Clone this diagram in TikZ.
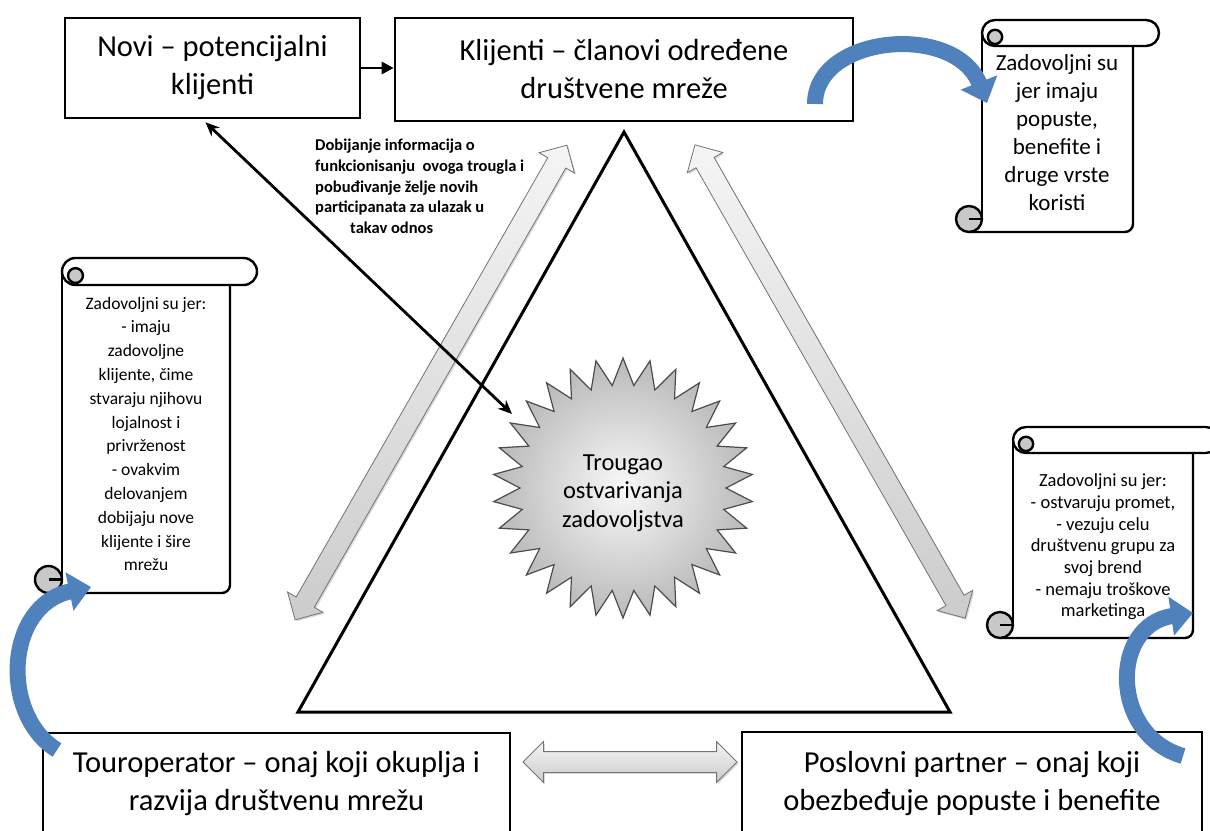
\documentclass[tikz,border=0pt]{standalone}
\usepackage{fontspec}
\setmainfont{Carlito}
\usetikzlibrary{shapes.arrows,arrows.meta,calc,shadows}
\definecolor{obl}{HTML}{4F81BD}
\definecolor{curlgray}{HTML}{C8C8C8}

\newcommand\drawscroll[5]{%
  \pgfmathsetmacro\sh{#5/2}%
  \fill[white] (#1,{#2+\sh}) rectangle (#3,#4);
  \draw[scrollline] (#1,{#2+\sh}) -- (#1,{#4-\sh});
  \draw[scrollline, rounded corners=8pt] (#3,{#2+#5}) -- (#3,#4) -- ({#1-\sh},#4);
  \draw[scrollline, fill=curlgray] ({#1-\sh},{#4-\sh}) circle[radius=\sh];
  \draw[scrollline] ({#1-\sh},{#4-\sh}) -- (#1,{#4-\sh});
  \draw[scrollline, fill=white, rounded corners=\sh pt] (#1,#2) rectangle ({#3+#5},{#2+#5});
  \draw[scrollline, fill=curlgray] ({#1+\sh},{#2+\sh*1.3}) circle[radius={\sh*0.55}];
}

\begin{document}
\begin{tikzpicture}[x=1pt,y=-1pt,
  box/.style={draw=black, line width=2.6pt, fill=white, align=center, inner sep=0pt, font=\fontsize{30.5}{38}\selectfont},
  scrollline/.style={draw=black, line width=2.4pt, line join=round},
  scrolltext/.style={align=center, inner sep=0pt},
  garrow/.style={double arrow, draw=black!55, line width=0.8pt, top color=gray!8, bottom color=gray!40,
    double arrow head extend=10pt, double arrow tip angle=90, inner xsep=0pt, inner ysep=10pt,
    text height=0pt, text depth=0pt, minimum width=0pt,
    drop shadow={shadow xshift=1.5pt, shadow yshift=-1.5pt, opacity=0.3}},
  blarrow/.style={draw=obl, line width=16pt, -{Triangle[length=22pt,width=38pt]}},
  blk/.style={line width=2.8pt, draw=black},
  ]
\useasboundingbox (0,0) rectangle (1210,830);
\clip (0,0) rectangle (1210,830);
\fill[white] (0,0) rectangle (1210,830);

% triangle
\coordinate (apex) at (624,132);
\coordinate (bl) at (298,712);
\coordinate (br) at (950,712);
\draw[line width=3pt, line join=miter] (apex) -- (br) -- (bl) -- cycle;

% star
\coordinate (sc) at (623,488);
\path[draw=black!70, line width=1.2pt, inner color=gray!5, outer color=gray!55]
  ($(sc)+(90:130)$) \foreach \i in {1,...,59} { -- ($(sc)+({90+6*\i}:{ifthenelse(isodd(\i),103,130)})$) } -- cycle;
\node[align=center, font=\fontsize{24.5}{28.5}\selectfont] (trougao) at (623,493) {Trougao\\ostvarivanja\\zadovoljstva};

% boxes
\node[box, minimum width=295pt, minimum height=100pt] (novi) at (212.5,68) {Novi – potencijalni\\klijenti};
\node[box, minimum width=458pt, minimum height=103pt] (klijenti) at (624,69.5) {Klijenti – članovi određene\\društvene mreže};
\node[box, minimum width=467pt, minimum height=102pt] (tour) at (276.5,784) {Touroperator – onaj koji okuplja i\\razvija društvenu mrežu};
\node[box, minimum width=460pt, minimum height=103pt] (posl) at (972,783.5) {Poslovni partner – onaj koji\\obezbeđuje popuste i benefite};

\draw[blk, -{Triangle[length=12pt,width=12pt]}] (novi.east) -- (novi.east -| klijenti.west);

% gray block arrows
\coordinate (g1a) at (567,145); \coordinate (g1b) at (295,620);
\path (g1a) -- (g1b) node[garrow, midway, sloped, minimum height=547pt] (garr1) {};
\coordinate (g2a) at (695,145); \coordinate (g2b) at (965,618);
\path (g2a) -- (g2b) node[garrow, midway, sloped, minimum height=545pt] (garr2) {};
\coordinate (g3a) at (523,762); \coordinate (g3b) at (737,762);
\path (g3a) -- (g3b) node[garrow, midway, sloped, minimum height=214pt] (garr3) {};

% black double arrow
\coordinate (bstart) at ($(novi.south)+(-7,3)$);
\coordinate (bend) at (512,414);
\draw[blk, {Stealth[length=14pt,width=12pt]}-{Stealth[length=14pt,width=12pt]}] (bstart) -- (bend);

% info text
\node[anchor=north west, align=left, inner sep=0pt, font=\bfseries\fontsize{16.5}{20.7}\selectfont] (info) at (315,139)
  {Dobijanje informacija o\\funkcionisanju\ \ ovoga trougla i\\pobuđivanje želje novih\\participanata za ulazak u\\\hspace*{35pt}takav odnos};

% scrolls
\drawscroll{982}{20}{1133}{232}{26}
\node[scrolltext, font=\fontsize{23}{28}\selectfont] (s1) at (1057,133)
  {Zadovoljni su\\jer imaju\\popuste,\\benefite i\\druge vrste\\koristi};
\drawscroll{62}{258}{230}{593}{27}
\node[scrolltext, font=\fontsize{17.5}{23.8}\selectfont] (s2) at (146,434)
  {Zadovoljni su jer:\\- imaju\\zadovoljne\\klijente, čime\\stvaraju njihovu\\lojalnost i\\privrženost\\- ovakvim\\delovanjem\\dobijaju nove\\klijente i šire\\mrežu};
\drawscroll{1013}{427}{1193}{638}{26}
\node[scrolltext, font=\fontsize{18.5}{21.7}\selectfont] (s3) at (1103,547)
  {Zadovoljni su jer:\\- ostvaruju promet,\\- vezuju celu\\društvenu grupu za\\svoj brend\\- nemaju troškove\\marketinga};

% blue curved arrows
\coordinate (b1s) at (815,104); \coordinate (b1e) at (987,103);
\draw[blarrow] (b1s) .. controls (815,35) and (955,22) .. (b1e);
\coordinate (b2s) at (57,750); \coordinate (b2e) at (91,587);
\draw[blarrow] (b2s) .. controls (0,715) and (5,605) .. (b2e);
\coordinate (b3s) at (1183,756); \coordinate (b3e) at (1193,613);
\draw[blarrow] (b3s) .. controls (1110,735) and (1110,625) .. (b3e);
\end{tikzpicture}
\end{document}
